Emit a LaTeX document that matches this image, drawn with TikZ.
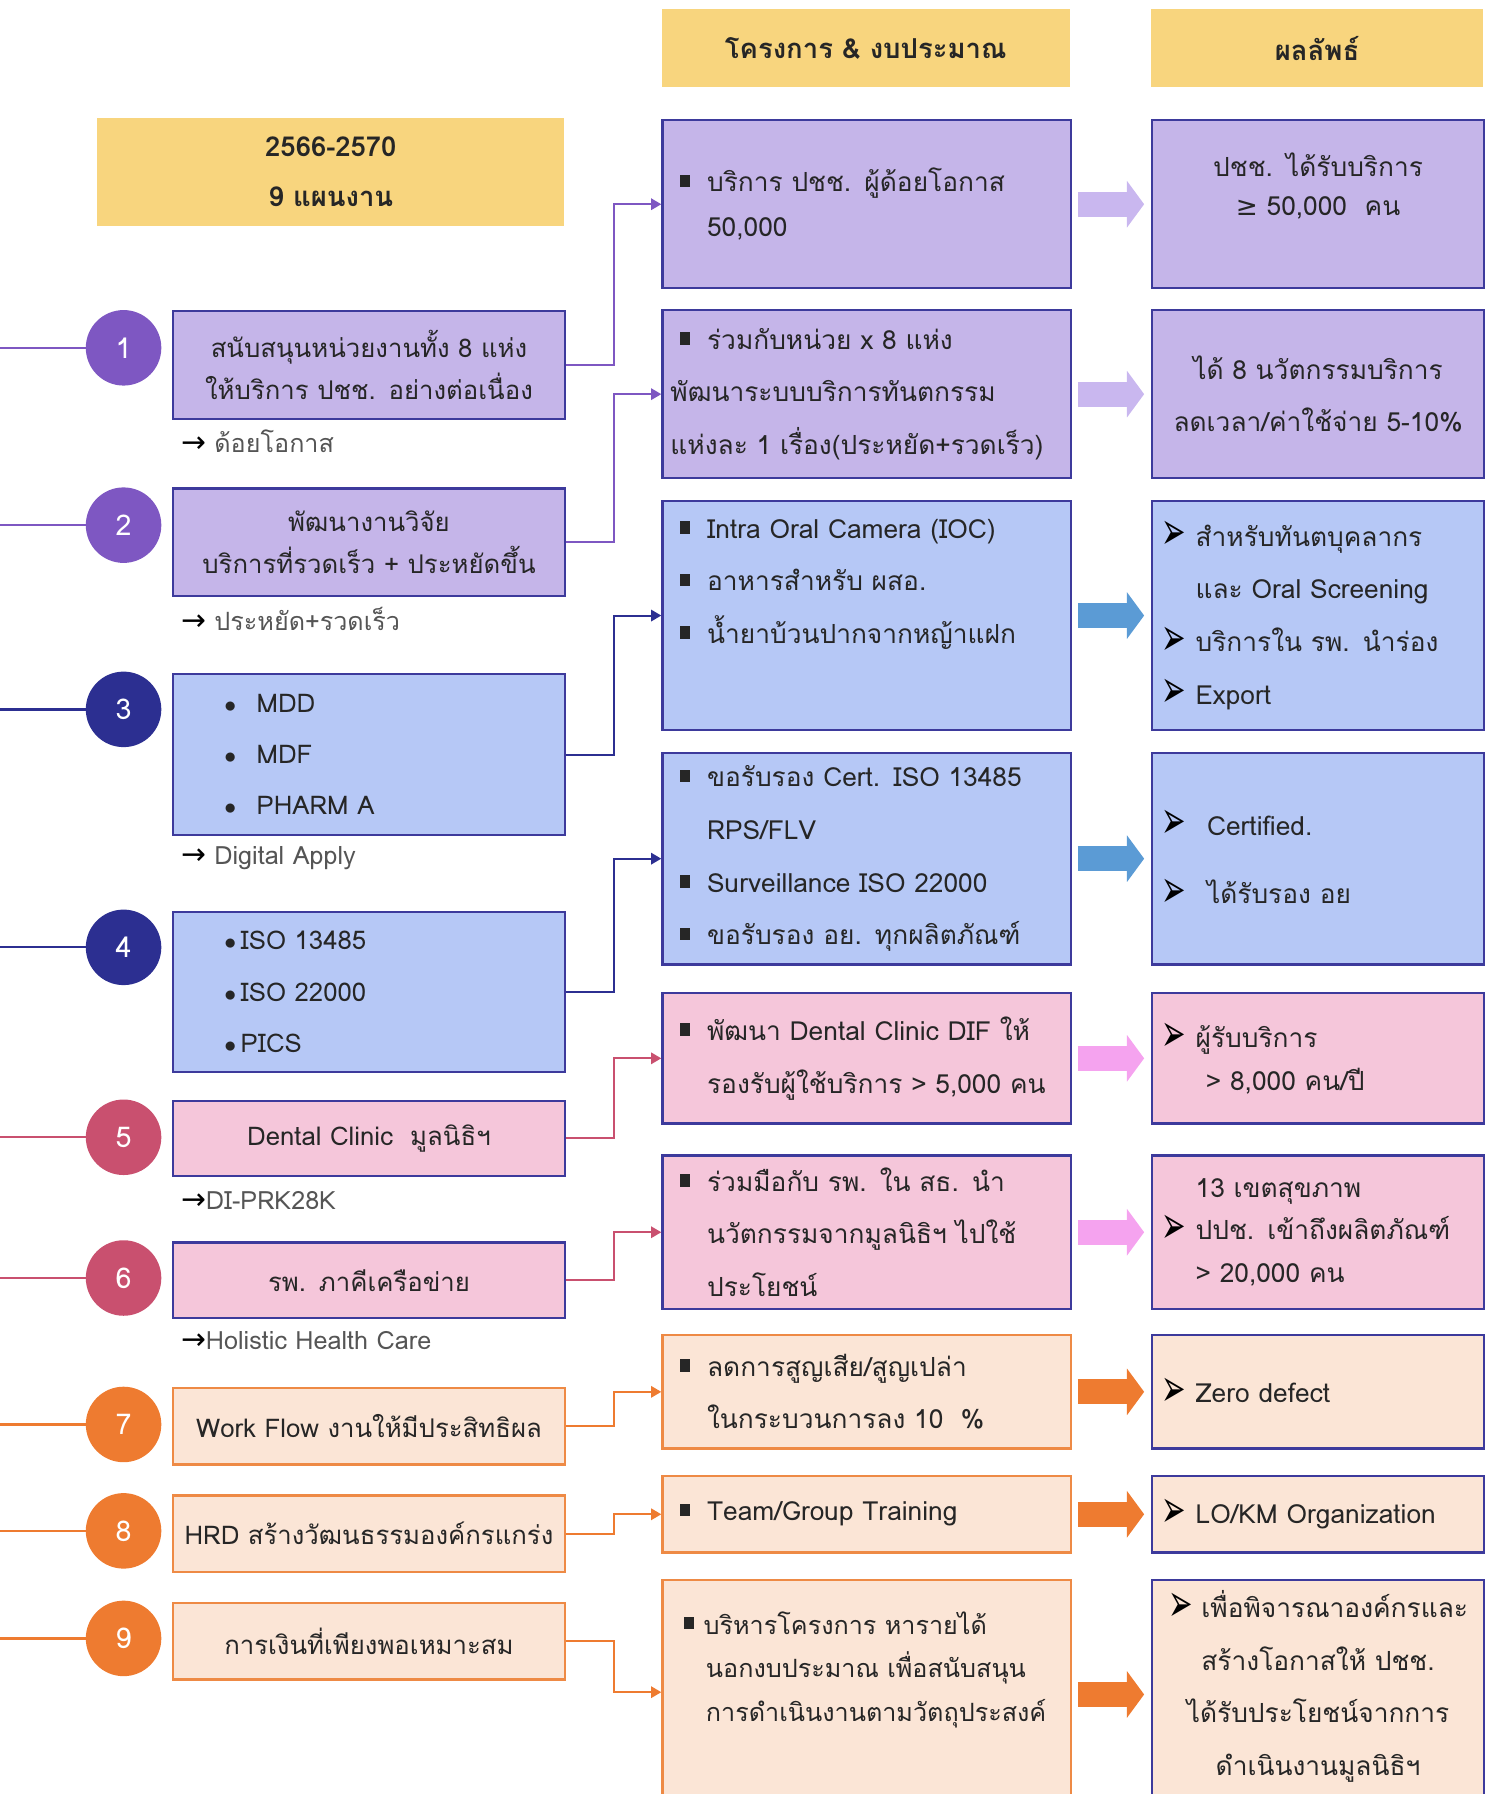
\documentclass[tikz,border=0pt]{standalone}
\usepackage{fontspec}
\setmainfont[Script=Thai]{Loma}
\newfontfamily\symfont{DejaVu Sans}
\usetikzlibrary{arrows.meta}

\definecolor{headyellow}{HTML}{F8D57E}
\definecolor{purpfill}{HTML}{C5B5E9}
\definecolor{bluefill}{HTML}{B6C8F6}
\definecolor{pinkfill}{HTML}{F5C6DA}
\definecolor{peachfill}{HTML}{FBE5D6}
\definecolor{navyline}{HTML}{3D3A9C}
\definecolor{orangeline}{HTML}{EE8A45}
\definecolor{purpdot}{HTML}{7E57C2}
\definecolor{navydot}{HTML}{2C2F91}
\definecolor{rosedot}{HTML}{C9506F}
\definecolor{orangedot}{HTML}{EE7B30}
\definecolor{purparrow}{HTML}{C9B7EF}
\definecolor{bluearrow}{HTML}{5B9BD5}
\definecolor{pinkarrow}{HTML}{F5A3EF}
\definecolor{textdark}{HTML}{262626}
\definecolor{notegray}{HTML}{555555}

\begin{document}
\begin{tikzpicture}[x=1pt,y=-1pt,
  head/.style={fill=headyellow, anchor=north west, inner sep=0pt, align=center,
    text=textdark, font=\fontsize{24}{44}\selectfont\bfseries},
  plan/.style={draw=navyline, line width=2pt, anchor=north west, minimum width=343pt,
    text width=329pt, inner xsep=7pt, inner ysep=0pt, align=center, text=textdark,
    font=\fontsize{22.5}{36}\selectfont},
  proj/.style={draw=navyline, line width=2pt, anchor=north west, minimum width=357pt,
    text width=343pt, inner xsep=7pt, inner ysep=0pt, align=left, text=textdark,
    font=\fontsize{23}{46}\selectfont},
  result/.style={draw=navyline, line width=2pt, anchor=north west, minimum width=290pt,
    text width=276pt, inner xsep=7pt, inner ysep=0pt, align=left, text=textdark,
    font=\fontsize{23}{46}\selectfont},
  num/.style={circle, minimum size=66pt, inner sep=0pt, text=white,
    font=\fontsize{25}{25}\selectfont},
  note/.style={anchor=west, inner sep=0pt, text=notegray, font=\fontsize{22}{22}\selectfont},
  link/.style={line width=1.8pt, -{Triangle[length=9pt,width=10pt]}},
  flow/.style={line width=22pt, -{Triangle[length=15pt,width=40pt]},
    shorten <=5pt, shorten >=6pt}]

\newcommand\sq{\rule[4pt]{9pt}{11pt}}
\newcommand\bl{\hspace*{8pt}\sq\hspace{15pt}}
\newcommand\ind{\hspace*{32pt}}
\newcommand\tip{{\color{black}\symfont\fontsize{32}{32}\selectfont
  \raisebox{-3pt}{\scalebox{0.8}[1.45]{➢}}}}
\newcommand\ah{\makebox[31pt][l]{\hspace{1pt}\tip}}
\newcommand\nd{\hspace*{31pt}}
\newcommand\go{{\color{black}\symfont\fontsize{26}{26}\selectfont →}}

  \useasboundingbox (0,0) rectangle (1308,1568);

  %% headers
  \node[head, minimum width=408pt, minimum height=94pt] (H1) at (85,103)
    {2566-2570\\9 แผนงาน};
  \node[head, minimum width=357pt, minimum height=68pt] (H2) at (578,8)
    {โครงการ \& งบประมาณ};
  \node[head, minimum width=290pt, minimum height=68pt] (H3) at (1006,8)
    {ผลลัพธ์};

  %% plans
  \node[plan, fill=purpfill, minimum height=94pt] (L1) at (150,271)
    {สนับสนุนหน่วยงานทั้ง 8 แห่ง\\ให้บริการ ปชช. อย่างต่อเนื่อง};
  \node[plan, fill=purpfill, minimum height=94pt] (L2) at (150,426)
    {พัฒนางานวิจัย\\บริการที่รวดเร็ว + ประหยัดขึ้น};
  \node[plan, fill=bluefill, minimum height=141pt, align=left,
    font=\fontsize{22.5}{44.5}\selectfont] (L3) at (150,588)
    {\hspace*{38pt}$\bullet$\hspace{18pt}MDD\\\hspace*{38pt}$\bullet$\hspace{18pt}MDF\\
     \hspace*{38pt}$\bullet$\hspace{18pt}PHARM A};
  \node[plan, fill=bluefill, minimum height=140pt, align=left,
    font=\fontsize{22.5}{45}\selectfont] (L4) at (150,796)
    {\hspace*{38pt}$\bullet$\hspace{4pt}ISO 13485\\\hspace*{38pt}$\bullet$\hspace{4pt}ISO 22000\\
     \hspace*{38pt}$\bullet$\hspace{4pt}PICS};
  \node[plan, fill=pinkfill, minimum height=66pt] (L5) at (150,961)
    {Dental Clinic~~มูลนิธิฯ};
  \node[plan, fill=pinkfill, minimum height=66pt] (L6) at (150,1085)
    {รพ. ภาคีเครือข่าย};
  \node[plan, fill=peachfill, draw=orangeline, minimum height=67pt] (L7) at (150,1212)
    {Work Flow งานให้มีประสิทธิผล};
  \node[plan, fill=peachfill, draw=orangeline, minimum height=67pt] (L8) at (150,1306)
    {HRD สร้างวัฒนธรรมองค์กรแกร่ง};
  \node[plan, fill=peachfill, draw=orangeline, minimum height=67pt] (L9) at (150,1400)
    {การเงินที่เพียงพอเหมาะสม};

  %% notes under plans
  \node[note] (N1) at (158,386) {\go\ ด้อยโอกาส};
  \node[note] (N2) at (158,541) {\go\ ประหยัด+รวดเร็ว};
  \node[note] (N3) at (158,750) {\go\ Digital Apply};
  \node[note] (N5) at (158,1049) {\go DI-PRK28K};
  \node[note] (N6) at (158,1172) {\go Holistic Health Care};

  %% plan numbers
  \draw[purpdot, line width=2pt] (0,304) -- (108,304) (0,459) -- (108,459);
  \draw[navydot, line width=2pt] (0,620) -- (108,620) (0,828) -- (108,828);
  \draw[rosedot, line width=2pt] (0,994) -- (108,994) (0,1117) -- (108,1117);
  \draw[orangedot, line width=2pt] (0,1245) -- (108,1245) (0,1338) -- (108,1338)
    (0,1432) -- (108,1432);
  \node[num, fill=purpdot] (C1) at (108,304) {1};
  \node[num, fill=purpdot] (C2) at (108,459) {2};
  \node[num, fill=navydot] (C3) at (108,620) {3};
  \node[num, fill=navydot] (C4) at (108,828) {4};
  \node[num, fill=rosedot] (C5) at (108,994) {5};
  \node[num, fill=rosedot] (C6) at (108,1117) {6};
  \node[num, fill=orangedot] (C7) at (108,1245) {7};
  \node[num, fill=orangedot] (C8) at (108,1338) {8};
  \node[num, fill=orangedot] (C9) at (108,1432) {9};

  %% projects
  \node[proj, fill=purpfill, minimum height=147pt] (M1) at (578,104)
    {\bl บริการ ปชช. ผู้ด้อยโอกาส\\[-7pt]\ind 50,000};
  \node[proj, fill=purpfill, minimum height=147pt] (M2) at (578,270)
    {\bl ร่วมกับหน่วย x 8 แห่ง\\พัฒนาระบบบริการทันตกรรม\\แห่งละ 1 เรื่อง(ประหยัด+รวดเร็ว)};
  \node[proj, fill=bluefill, minimum height=200pt] (M3) at (578,437)
    {\bl Intra Oral Camera (IOC)\\\bl อาหารสำหรับ ผสอ.\\\bl น้ำยาบ้วนปากจากหญ้าแฝก\\\strut};
  \node[proj, fill=bluefill, minimum height=185pt] (M4) at (578,657)
    {\bl ขอรับรอง Cert. ISO 13485\\\ind RPS/FLV\\\bl Surveillance ISO 22000\\
     \bl ขอรับรอง อย. ทุกผลิตภัณฑ์};
  \node[proj, fill=pinkfill, minimum height=114pt] (M5) at (578,867)
    {\bl พัฒนา Dental Clinic DIF ให้\\\ind รองรับผู้ใช้บริการ > 5,000 คน};
  \node[proj, fill=pinkfill, minimum height=134pt] (M6) at (578,1009)
    {\bl ร่วมมือกับ รพ. ใน สธ. นำ\\\ind นวัตกรรมจากมูลนิธิฯ ไปใช้\\\ind ประโยชน์};
  \node[proj, fill=peachfill, draw=orangeline, minimum height=99pt] (M7) at (578,1166)
    {\bl ลดการสูญเสีย/สูญเปล่า\\\ind ในกระบวนการลง 10~~\%};
  \node[proj, fill=peachfill, draw=orangeline, minimum height=67pt] (M8) at (578,1289)
    {\bl Team/Group Training};
  \node[proj, fill=peachfill, draw=orangeline, minimum height=200pt,
    font=\fontsize{22}{38}\selectfont] (M9) at (578,1380)
    {\hspace*{12pt}\sq\hspace{8pt}บริหารโครงการ หารายได้\\\hspace*{31pt}นอกงบประมาณ เพื่อสนับสนุน\\
     \hspace*{31pt}การดำเนินงานตามวัตถุประสงค์\\\strut};

  %% results
  \node[result, fill=purpfill, minimum height=147pt, align=center] (R1) at (1006,104)
    {ปชช. ได้รับบริการ\\[-12pt]{\symfont ≥} 50,000~~คน\\[-24pt]\strut};
  \node[result, fill=purpfill, minimum height=147pt, align=center] (R2) at (1006,270)
    {ได้ 8 นวัตกรรมบริการ\\ลดเวลา/ค่าใช้จ่าย 5-10\%};
  \node[result, fill=bluefill, minimum height=200pt] (R3) at (1006,437)
    {\ah สำหรับทันตบุคลากร\\\nd และ Oral Screening\\\ah บริการใน รพ. นำร่อง\\\ah Export};
  \node[result, fill=bluefill, minimum height=185pt] (R4) at (1006,657)
    {\ah\hspace{10pt}Certified.\\[14pt]\ah\hspace{10pt}ได้รับรอง อย};
  \node[result, fill=pinkfill, minimum height=114pt] (R5) at (1006,867)
    {\ah ผู้รับบริการ\\[-9pt]\hspace*{40pt}> 8,000 คน/ปี};
  \node[result, fill=pinkfill, minimum height=134pt] (R6) at (1006,1009)
    {\nd 13 เขตสุขภาพ\\[-9pt]\ah ปปช. เข้าถึงผลิตภัณฑ์\\[-9pt]\nd > 20,000 คน};
  \node[result, fill=peachfill, minimum height=99pt] (R7) at (1006,1166)
    {\ah Zero defect};
  \node[result, fill=peachfill, minimum height=67pt] (R8) at (1006,1289)
    {\ah LO/KM Organization};
  \node[result, fill=peachfill, minimum height=200pt, align=center] (R9) at (1006,1380)
    {\tip\ เพื่อพิจารณาองค์กรและ\\สร้างโอกาสให้ ปชช.\\ได้รับประโยชน์จากการ\\
     ดำเนินงานมูลนิธิฯ\\[-40pt]\strut};

  %% plan to project
  \draw[link, purpdot] (L1.east) -- ++(42,0) |- (M1.west);
  \draw[link, purpdot] (L2.east) -- ++(42,0) |- (M2.west);
  \draw[link, navydot] (L3.east) -- ++(42,0) |- (M3.west);
  \draw[link, navydot] (L4.east) -- ++(42,0) |- (M4.west);
  \draw[link, rosedot] (L5.east) -- ++(42,0) |- (M5.west);
  \draw[link, rosedot] (L6.east) -- ++(42,0) |- (M6.west);
  \draw[link, orangedot] (L7.east) -- ++(42,0) |- (M7.west);
  \draw[link, orangedot] (L8.east) -- ++(42,0) |- (M8.west);
  \draw[link, orangedot] (L9.east) -- ++(42,0) |- ([yshift=2pt]M9.west);

  %% project to result
  \draw[flow, purparrow] (M1.east) -- (R1.west);
  \draw[flow, purparrow] (M2.east) -- (R2.west);
  \draw[flow, bluearrow] (M3.east) -- (R3.west);
  \draw[flow, bluearrow] (M4.east) -- (R4.west);
  \draw[flow, pinkarrow] (M5.east) -- (R5.west);
  \draw[flow, pinkarrow] (M6.east) -- (R6.west);
  \draw[flow, orangedot] (M7.east) -- (R7.west);
  \draw[flow, orangedot] (M8.east) -- (R8.west);
  \draw[flow, orangedot] (M9.east) -- (R9.west);

\end{tikzpicture}
\end{document}
